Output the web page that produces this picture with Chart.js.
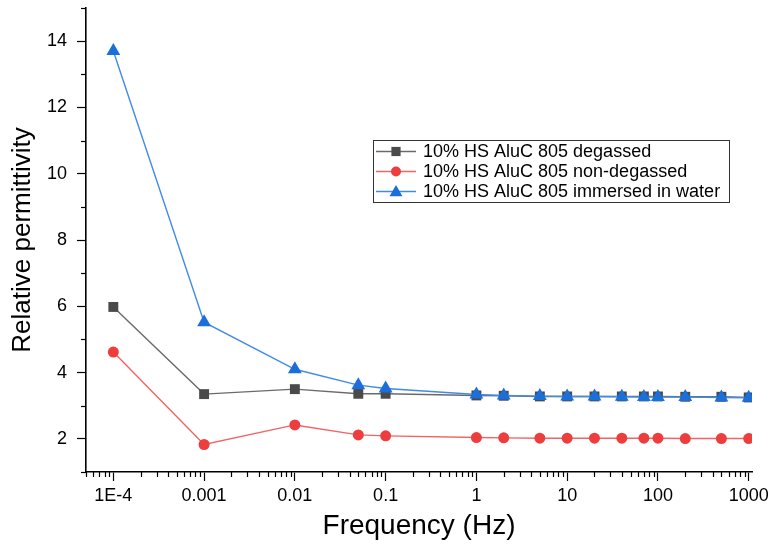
<!DOCTYPE html>
<html>
<head>
<meta charset="utf-8">
<script src="https://cdn.jsdelivr.net/npm/chart.js@4/dist/chart.umd.min.js"></script>
<style>
  html, body { margin: 0; padding: 0; background: #fff; }
  #wrap { width: 777px; height: 548px; position: relative; }
</style>
</head>
<body>
<div id="wrap"><canvas id="c" width="777" height="548"></canvas></div>
<script>
// ---- data ----
const freq = [1e-4, 1e-3, 1e-2, 0.05, 0.1, 1, 2, 5, 10, 20, 40, 70, 100, 200, 500, 1000];
const degassed = [5.98, 3.35, 3.50, 3.36, 3.36, 3.31, 3.30, 3.28, 3.28, 3.28, 3.28, 3.28, 3.28, 3.27, 3.27, 3.25];
const nonDegassed = [4.62, 1.83, 2.42, 2.12, 2.09, 2.04, 2.03, 2.02, 2.02, 2.02, 2.02, 2.02, 2.02, 2.01, 2.01, 2.01];
const immersed = [13.70, 5.52, 4.10, 3.62, 3.52, 3.34, 3.31, 3.29, 3.28, 3.28, 3.27, 3.26, 3.26, 3.26, 3.25, 3.24];
const seriesLabels = ['10% HS AluC 805 degassed', '10% HS AluC 805 non-degassed', '10% HS AluC 805 immersed in water'];
const xTickValues = [1e-4, 1e-3, 1e-2, 1e-1, 1, 10, 100, 1000];
const xTickLabels = ['1E-4', '0.001', '0.01', '0.1', '1', '10', '100', '1000'];
const yTickValues = [2, 4, 6, 8, 10, 12, 14];
const yMinorValues = [1, 3, 5, 7, 9, 11, 13, 15];
const xTitle = 'Frequency (Hz)';
const yTitle = 'Relative permittivity';

const FONT = "'Liberation Sans', Arial, Helvetica, sans-serif";
const toPts = arr => freq.map((f, i) => ({ x: f, y: arr[i] }));

const styles = [
  { line: '#6a6a6a', point: '#4a4a4a', shape: 'rect', r: 7 },
  { line: '#f26464', point: '#ee3d3d', shape: 'circle', r: 5.5 },
  { line: '#3f8be8', point: '#1b6fdb', shape: 'triangle', r: 8 }
];
const series = [degassed, nonDegassed, immersed];
const orders = [1, 2, 0];

const datasets = series.map((arr, i) => ({
  label: seriesLabels[i],
  data: toPts(arr),
  borderColor: styles[i].line,
  backgroundColor: styles[i].point,
  pointBackgroundColor: styles[i].point,
  pointBorderColor: styles[i].point,
  pointBorderWidth: 0,
  pointStyle: styles[i].shape,
  pointRadius: styles[i].r,
  pointHoverRadius: styles[i].r,
  borderWidth: 1.4,
  tension: 0,
  order: orders[i],
  clip: { left: 20, top: 20, right: 0, bottom: 20 }
}));

function drawShape(ctx, shape, x, y, r, color) {
  ctx.save();
  ctx.fillStyle = color;
  ctx.beginPath();
  if (shape === 'rect') {
    const s = r * Math.SQRT1_2;
    ctx.rect(x - s, y - s, 2 * s, 2 * s);
  } else if (shape === 'circle') {
    ctx.arc(x, y, r, 0, Math.PI * 2);
  } else {
    ctx.moveTo(x, y - r);
    ctx.lineTo(x + r * Math.sin(Math.PI / 3), y + r / 2);
    ctx.lineTo(x - r * Math.sin(Math.PI / 3), y + r / 2);
    ctx.closePath();
  }
  ctx.fill();
  ctx.restore();
}

const extras = {
  id: 'extras',
  afterDraw(chart) {
    const ctx = chart.ctx;
    const xs = chart.scales.x, ys = chart.scales.y;
    const area = chart.chartArea;
    ctx.save();
    ctx.strokeStyle = '#000';
    ctx.lineWidth = 1.2;
    // minor x ticks
    for (let e = -5; e <= 3; e++) {
      for (let k = 2; k <= 9; k++) {
        const v = k * Math.pow(10, e);
        if (v < xs.min || v > xs.max) continue;
        const px = Math.round(xs.getPixelForValue(v)) + 0.5;
        ctx.beginPath();
        ctx.moveTo(px, area.bottom);
        ctx.lineTo(px, area.bottom + 5);
        ctx.stroke();
      }
    }
    // minor y ticks
    yMinorValues.forEach(v => {
      const py = Math.round(ys.getPixelForValue(v)) + 0.5;
      ctx.beginPath();
      ctx.moveTo(area.left, py);
      ctx.lineTo(area.left - 5, py);
      ctx.stroke();
    });
    ctx.restore();

    // legend box
    const L = 373, T = 140, R = 729, B = 202;
    ctx.save();
    ctx.fillStyle = '#fff';
    ctx.fillRect(L, T, R - L, B - T);
    ctx.strokeStyle = '#333';
    ctx.lineWidth = 1;
    ctx.strokeRect(L + 0.5, T + 0.5, R - L, B - T);
    const rowsY = [151, 171, 191];
    const legR = [6.5, 5, 7.5];
    ctx.font = '18px ' + FONT;
    ctx.textBaseline = 'middle';
    ctx.textAlign = 'left';
    seriesLabels.forEach((lab, i) => {
      const y = rowsY[i];
      ctx.strokeStyle = styles[i].line;
      ctx.lineWidth = 1.4;
      ctx.beginPath();
      ctx.moveTo(376, y + 0.5);
      ctx.lineTo(416, y + 0.5);
      ctx.stroke();
      drawShape(ctx, styles[i].shape, 396, y + (styles[i].shape === 'triangle' ? 1.5 : 0.5), legR[i], styles[i].point);
      ctx.fillStyle = '#000';
      ctx.fillText(lab, 423, y + 1);
    });
    ctx.restore();
  }
};

new Chart(document.getElementById('c'), {
  type: 'line',
  data: { datasets },
  options: {
    responsive: false,
    animation: false,
    devicePixelRatio: 1,
    layout: { padding: { left: 0, right: 25, top: 7, bottom: 0 } },
    plugins: { legend: { display: false }, tooltip: { enabled: false } },
    scales: {
      x: {
        type: 'logarithmic',
        position: 'bottom',
        min: 5e-5,
        max: 1087,
        afterBuildTicks: s => { s.ticks = xTickValues.map(v => ({ value: v })); },
        afterFit: s => { s.height = 76; s.paddingLeft = 0; s.paddingRight = 0; },
        ticks: {
          autoSkip: false,
          maxRotation: 0,
          minRotation: 0,
          padding: 4,
          color: '#000',
          font: { family: FONT, size: 18 },
          callback: (v, i) => xTickLabels[i]
        },
        grid: { drawOnChartArea: false, tickLength: 9, tickColor: '#000', tickWidth: 1.2 },
        border: { color: '#000', width: 1.6 },
        title: {
          display: true,
          text: xTitle,
          color: '#000',
          font: { family: FONT, size: 28 },
          padding: { top: 0, bottom: 5 }
        }
      },
      y: {
        type: 'linear',
        position: 'left',
        min: 1,
        max: 15,
        afterBuildTicks: s => { s.ticks = yTickValues.map(v => ({ value: v })); },
        afterFit: s => { s.width = 86; s.paddingTop = 0; s.paddingBottom = 0; },
        ticks: {
          padding: 10,
          color: '#000',
          font: { family: FONT, size: 18 },
          callback: v => String(v)
        },
        grid: { drawOnChartArea: false, tickLength: 9, tickColor: '#000', tickWidth: 1.2 },
        border: { color: '#000', width: 1.6 },
        title: {
          display: true,
          text: yTitle,
          color: '#000',
          font: { family: FONT, size: 26 },
          padding: { top: 7, bottom: 0 }
        }
      }
    }
  },
  plugins: [extras]
});
</script>
</body>
</html>
